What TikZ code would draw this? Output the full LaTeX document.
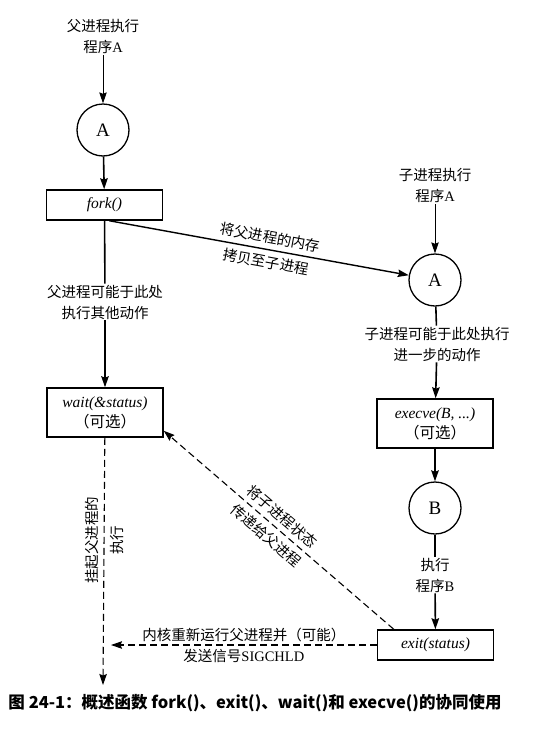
\documentclass[tikz,border=0pt]{standalone}
\usepackage{fontspec}
\setmainfont{Liberation Serif}
\newfontfamily\cjk{Noto Sans CJK SC}
\usetikzlibrary{arrows.meta,calc}
\tikzset{
  lab/.style={font=\cjk\fontsize{14.5}{21}\selectfont, align=center, inner sep=1pt},
  slab/.style={font=\cjk\fontsize{14.5}{25}\selectfont, align=center, inner sep=1pt},
  fbox/.style={draw, line width=1.5pt, minimum width=116pt, font=\itshape\fontsize{15.5}{20}\selectfont, align=center, inner sep=0pt},
  circ/.style={draw, circle, line width=1.3pt, minimum size=52pt, inner sep=0pt, font=\fontsize{19}{19}\selectfont},
  tipA/.style={-{Stealth[length=11pt,width=7.5pt,inset=1.5pt]}},
  arrThin/.style={line width=0.9pt, tipA},
  arrThick/.style={line width=1.6pt, tipA},
  plainThick/.style={line width=1.6pt},
  arrDash/.style={line width=1.1pt, dash pattern=on 7pt off 4pt, tipA},
}
\begin{document}
\begin{tikzpicture}[x=1pt,y=-1pt]
\path[use as bounding box, fill=white] (0,0) rectangle (552,734);

% left column
\node[lab] (ptxt) at (103,37) {父进程执行\\程序{\rmfamily A}};
\node[circ] (pa) at (103,130) {A};
\node[fbox, minimum height=30pt] (fork) at (104.5,205) {fork()};
\node[lab] (plab) at (105,302) {父进程可能于此处\\执行其他动作};
\node[fbox, minimum height=49pt] (wait) at (105,412.5) {wait(\&status)\\{\upshape\cjk （可选）}};
\coordinate (pend) at (103,685);
\coordinate (kret) at (111,645);

% right column
\node[lab] (ctxt) at (435,186) {子进程执行\\程序{\rmfamily A}};
\node[circ] (ca) at (435,280) {A};
\node[lab] (clab) at (437,344) {子进程可能于此处执行\\进一步的动作};
\node[fbox, minimum height=49pt] (execve) at (435,423.5) {execve(B, ...)\\{\upshape\cjk （可选）}};
\node[circ] (cb) at (435,508) {B};
\node[lab] (blab) at (435,575) {执行\\程序{\rmfamily B}};
\node[fbox, minimum height=30pt] (exit) at (435.5,645) {exit(status)};

% caption
\node[font=\cjk\bfseries\fontsize{16.5}{18}\selectfont] (cap) at (255,703) {图 24-1：概述函数 fork()、exit()、wait()和 execve()的协同使用};

% connectors left
\draw[arrThin] (ptxt) -- (pa);
\draw[arrThick] (pa) -- (fork);
\draw[plainThick] (fork) -- (plab);
\draw[arrThick] (plab) -- (wait);
\draw[arrDash] (wait) -- (pend)
  node[slab, rotate=90, pos=0.415] {挂起父进程的\\执行};

% fork to child
\draw[line width=1.4pt, tipA] (fork.-73) -- (ca)
  node[slab, sloped, pos=0.53] {将父进程的内存\\拷贝至子进程};

% connectors right
\draw[arrThin] (ctxt) -- (ca);
\draw[plainThick] (ca) -- (clab);
\draw[arrThick] (clab) -- (execve);
\draw[arrThick] (execve) -- (cb);
\draw[plainThick] (cb) -- (blab);
\draw[arrThick] (blab) -- (exit);

% dashed back connectors
\draw[arrDash] ([xshift=17pt]exit.north west) -- ([yshift=7pt]wait.south east)
  node[slab, sloped, pos=0.52] {将子进程状态\\传递给父进程};
\draw[arrDash] (exit) -- (kret)
  node[lab, midway] {内核重新运行父进程并（可能）\\发送信号{\rmfamily SIGCHLD}};
\end{tikzpicture}
\end{document}
